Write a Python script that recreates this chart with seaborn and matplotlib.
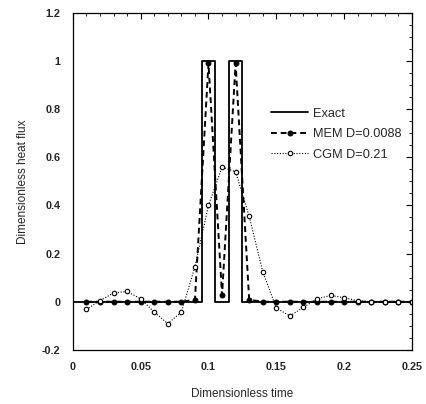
import matplotlib
matplotlib.use("Agg")
import matplotlib.pyplot as plt
from matplotlib.ticker import MultipleLocator
import pandas as pd
import seaborn as sns

sns.set_style("white")
plt.rcParams["font.family"] = ["Liberation Sans", "DejaVu Sans"]

# Exact heat flux: two rectangular pulses
exact_t = [0.0, 0.095, 0.095, 0.105, 0.105, 0.115, 0.115, 0.125, 0.125, 0.25]
exact_q = [0.0, 0.0, 1.0, 1.0, 0.0, 0.0, 1.0, 1.0, 0.0, 0.0]

# Sampling times of the estimates
time = [0.01, 0.02, 0.03, 0.04, 0.05, 0.06, 0.07, 0.08, 0.09, 0.10,
        0.11, 0.12, 0.13, 0.14, 0.15, 0.16, 0.17, 0.18, 0.19, 0.20,
        0.21, 0.22, 0.23, 0.24, 0.25]

# Maximum entropy method estimate
mem_q = [0.0, 0.0, 0.0, 0.0, 0.0, 0.0, 0.0, 0.0, 0.008, 0.99,
         0.028, 0.99, 0.008, 0.0, 0.0, 0.0, 0.0, 0.0, 0.0, 0.0,
         0.0, 0.0, 0.0, 0.0, 0.0]

# Conjugate gradient method estimate
cgm_q = [-0.032, 0.005, 0.036, 0.043, 0.012, -0.043, -0.091, -0.043, 0.145, 0.40,
         0.56, 0.54, 0.355, 0.125, -0.026, -0.059, -0.023, 0.012, 0.026, 0.017,
         0.004, 0.0, 0.0, 0.0, 0.0]

exact_df = pd.DataFrame({"t": exact_t, "q": exact_q})
est_df = pd.DataFrame({"t": time, "mem": mem_q, "cgm": cgm_q})

fig = plt.figure(figsize=(4.26, 4.04), dpi=100)
ax = fig.add_axes([0.171, 0.134, 0.796, 0.834])

sns.lineplot(data=exact_df, x="t", y="q", sort=False, estimator=None,
             color="black", linewidth=1.3, ax=ax, label="Exact")
sns.lineplot(data=est_df, x="t", y="mem", sort=False, estimator=None,
             color="black", linewidth=1.4, linestyle=(0, (3, 2)),
             marker="o", markersize=3.5, markerfacecolor="black",
             markeredgecolor="black", ax=ax, label="MEM D=0.0088")
sns.lineplot(data=est_df, x="t", y="cgm", sort=False, estimator=None,
             color="black", linewidth=0.8, linestyle=(0, (1, 1.5)),
             marker="o", markersize=3.2, markerfacecolor="white",
             markeredgecolor="black", markeredgewidth=0.8, ax=ax,
             label="CGM D=0.21")

ax.set_xlim(0, 0.25)
ax.set_ylim(-0.2, 1.2)
ax.xaxis.set_major_locator(MultipleLocator(0.05))
ax.xaxis.set_minor_locator(MultipleLocator(0.01))
ax.yaxis.set_major_locator(MultipleLocator(0.2))
ax.yaxis.set_minor_locator(MultipleLocator(0.05))
ax.xaxis.set_major_formatter(plt.FuncFormatter(lambda v, p: f"{v:g}"))
ax.yaxis.set_major_formatter(plt.FuncFormatter(lambda v, p: f"{v:g}"))

ax.tick_params(which="both", direction="in", top=True, right=True,
               color="black")
ax.tick_params(which="major", length=4, width=0.8, labelsize=7.8)
ax.tick_params(axis="x", which="major", pad=9)
ax.tick_params(axis="y", which="major", pad=9)
ax.tick_params(which="minor", length=2, width=0.6)
for lbl in ax.get_xticklabels() + ax.get_yticklabels():
    lbl.set_fontweight("bold")

for sp in ax.spines.values():
    sp.set_color("black")
    sp.set_linewidth(0.9)

ax.set_xlabel("Dimensionless time", fontsize=8.5, labelpad=11)
ax.set_ylabel("Dimensionless heat flux", fontsize=8.5, labelpad=9)

ax.legend(loc="upper left", bbox_to_anchor=(0.585, 0.718), frameon=False,
          fontsize=9.2, handlelength=2.9, handletextpad=0.4, labelspacing=0.65,
          borderpad=0, borderaxespad=0)

fig.savefig("out.png", dpi=100)
